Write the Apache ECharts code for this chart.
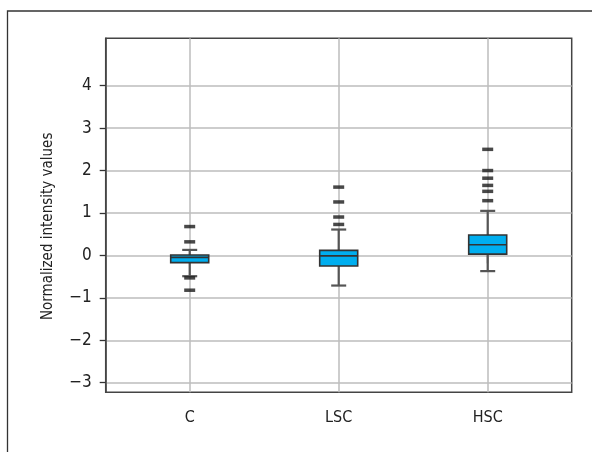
<!DOCTYPE html>
<html>
<head>
<meta charset="utf-8">
<script src="https://cdn.jsdelivr.net/npm/echarts@6/dist/echarts.min.js"></script>
<style>html,body{margin:0;padding:0;background:#fff}#c{width:592px;height:452px}</style>
</head>
<body>
<div id="c"></div>
<script>
var categories = ['C', 'LSC', 'HSC'];
// [lowerWhisker, q1, median, q3, upperWhisker]
var boxC = [-0.49, -0.17, -0.045, 0.01, 0.13];
var boxLSC = [-0.71, -0.25, -0.01, 0.12, 0.61];
var boxHSC = [-0.37, 0.03, 0.25, 0.48, 1.05];
var outliersC = [0.68, 0.32, -0.53, -0.82];
var outliersLSC = [1.61, 1.26, 0.905, 0.73];
var outliersHSC = [2.50, 2.0, 1.82, 1.65, 1.51, 1.29];
var yTicks = [-3, -2, -1, 0, 1, 2, 3, 4];
var yName = 'Normalized intensity values';

var FONT = "'DejaVu Sans Condensed', 'Liberation Sans Narrow', sans-serif";
var YMIN = -3.226, YMAX = 5.117;

var boxes = [boxC, boxLSC, boxHSC];
var boxData = boxes.map(function (b, i) { return [i].concat(b); });
var outlierSets = [outliersC, outliersLSC, outliersHSC];
var outlierData = [];
outlierSets.forEach(function (arr, i) { arr.forEach(function (v) { outlierData.push([i, v]); }); });

var chart = echarts.init(document.getElementById('c'), null, {renderer: 'canvas'});
chart.setOption({
  animation: false,
  backgroundColor: '#fff',
  graphic: [{
    type: 'polyline', silent: true,
    shape: {points: [[7.5, 452], [7.5, 11], [592, 11]]},
    style: {stroke: '#333', lineWidth: 1.3, fill: null}
  }],
  grid: [
    {left: 105.7, top: 38.3, width: 466, height: 354, show: true, borderColor: '#444', borderWidth: 1.5, backgroundColor: 'transparent'},
    {left: 189.7, top: 38.3, width: 298, height: 354, show: false}
  ],
  xAxis: [
    {gridIndex: 0, type: 'value', min: 0, max: 1, show: false},
    {gridIndex: 1, type: 'category', data: categories, boundaryGap: false,
     axisLine: {show: false},
     axisTick: {show: true, length: 8, lineStyle: {color: '#333', width: 1.3}},
     axisLabel: {margin: 18, fontFamily: FONT, fontSize: 16, color: '#222'},
     splitLine: {show: true, lineStyle: {color: '#bdbdbd', width: 1.5}}}
  ],
  yAxis: [
    {gridIndex: 0, type: 'value', min: YMIN, max: YMAX,
     name: yName, nameLocation: 'middle', nameGap: 50, nameRotate: 90,
     nameTextStyle: {fontFamily: FONT, fontSize: 15, color: '#222', padding: [0, 22, 0, 0]},
     axisLine: {show: true, lineStyle: {color: '#444', width: 1.5}},
     axisTick: {show: true, length: 6, customValues: yTicks, lineStyle: {color: '#333', width: 1.3}},
     axisLabel: {customValues: yTicks, margin: 14, fontFamily: FONT, fontSize: 17, color: '#222',
       formatter: function (v) { return v < 0 ? '\u2212' + Math.abs(v) : String(v); }},
     splitLine: {show: true, lineStyle: {color: '#bdbdbd', width: 1.5}}},
    {gridIndex: 1, type: 'value', min: YMIN, max: YMAX, show: false}
  ],
  series: [
    {
      type: 'custom', xAxisIndex: 1, yAxisIndex: 1, data: boxData, z: 3,
      renderItem: function (params, api) {
        var x = api.value(0);
        var lo = api.coord([x, api.value(1)]);
        var q1 = api.coord([x, api.value(2)]);
        var md = api.coord([x, api.value(3)]);
        var q3 = api.coord([x, api.value(4)]);
        var hi = api.coord([x, api.value(5)]);
        var cx = lo[0], hw = 19, cw = 7.5;
        var wStyle = {stroke: '#555', lineWidth: 2.2};
        return {type: 'group', children: [
          {type: 'line', shape: {x1: cx, y1: hi[1], x2: cx, y2: lo[1]}, style: wStyle},
          {type: 'line', shape: {x1: cx - cw, y1: hi[1], x2: cx + cw, y2: hi[1]}, style: wStyle},
          {type: 'line', shape: {x1: cx - cw, y1: lo[1], x2: cx + cw, y2: lo[1]}, style: wStyle},
          {type: 'rect', shape: {x: cx - hw, y: q3[1], width: 2 * hw, height: q1[1] - q3[1]},
           style: {fill: '#00aeef', stroke: '#333', lineWidth: 1.6}},
          {type: 'line', shape: {x1: cx - hw, y1: md[1], x2: cx + hw, y2: md[1]}, style: {stroke: '#333', lineWidth: 1.6}}
        ]};
      }
    },
    {
      type: 'scatter', xAxisIndex: 1, yAxisIndex: 1, data: outlierData, z: 4,
      symbol: 'rect', symbolSize: [11, 3.5],
      itemStyle: {color: '#1a1a1a'}
    }
  ]
});
</script>
</body>
</html>
